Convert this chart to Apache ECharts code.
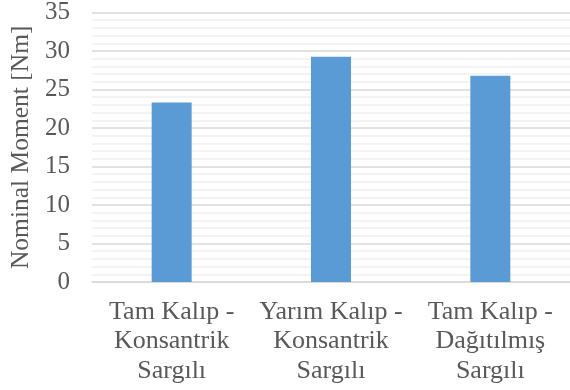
<!DOCTYPE html>
<html>
<head>
<meta charset="utf-8">
<script src="https://cdn.jsdelivr.net/npm/echarts@6/dist/echarts.min.js"></script>
<style>
  html, body { margin: 0; padding: 0; background: #fff; }
  #chart { width: 570px; height: 390px; }
</style>
</head>
<body>
<div id="chart"></div>
<script>
// Nominal torque for each mould / winding configuration
const categories = [
  'Tam Kalıp -\nKonsantrik\nSargılı',
  'Yarım Kalıp -\nKonsantrik\nSargılı',
  'Tam Kalıp -\nDağıtılmış\nSargılı'
];
const torqueValues = [23.3, 29.25, 26.8];
const yTicks = { min: 0, max: 35, step: 5 };
const yAxisTitle = 'Nominal Moment [Nm]';

const textColor = '#595959';
const font = '"Liberation Serif", "Times New Roman", serif';

const chart = echarts.init(document.getElementById('chart'), null, { renderer: 'canvas' });
chart.setOption({
  animation: false,
  backgroundColor: '#ffffff',
  grid: { left: 92, top: 12, width: 480, height: 270, containLabel: false },
  xAxis: {
    type: 'category',
    data: categories,
    axisLine: { show: true, lineStyle: { color: '#D9D9D9', width: 1.5 } },
    axisTick: { show: false },
    axisLabel: {
      color: textColor, fontFamily: font, fontSize: 26, lineHeight: 29.5,
      margin: 15, interval: 0
    },
    splitLine: { show: false }
  },
  yAxis: {
    type: 'value',
    min: yTicks.min, max: yTicks.max, interval: yTicks.step,
    name: yAxisTitle,
    nameLocation: 'middle',
    nameGap: 56,
    nameTextStyle: { color: textColor, fontFamily: font, fontSize: 25.5 },
    axisLine: { show: false },
    axisTick: { show: false },
    axisLabel: { color: textColor, fontFamily: font, fontSize: 25, margin: 22 },
    splitLine: { show: true, lineStyle: { color: '#D9D9D9', width: 1.5 } },
    minorTick: { show: false, splitNumber: 5 },
    minorSplitLine: { show: true, lineStyle: { color: '#F0F0F0', width: 1.5 } }
  },
  series: [{
    type: 'bar',
    data: torqueValues,
    barWidth: 40,
    itemStyle: { color: '#5B9BD5' }
  }]
});
</script>
</body>
</html>
